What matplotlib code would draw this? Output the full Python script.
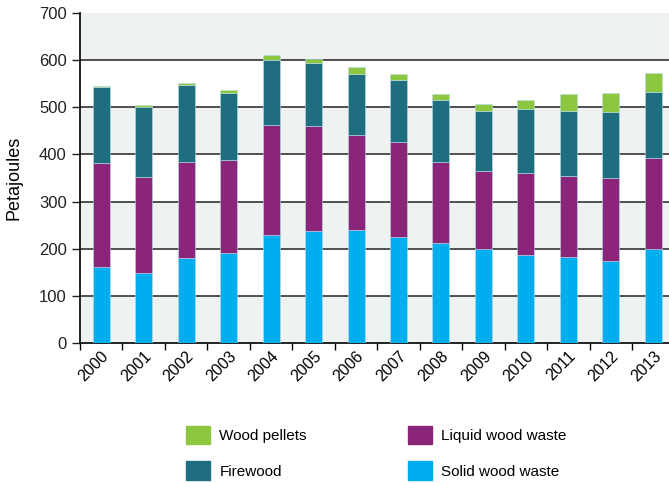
import numpy as np
import matplotlib.pyplot as plt
from matplotlib.patches import Patch

years = ['2000', '2001', '2002', '2003', '2004', '2005', '2006',
         '2007', '2008', '2009', '2010', '2011', '2012', '2013']
# stacked totals -> segment values
solid = [161, 148, 180, 191, 229, 237, 239, 225, 212, 199, 187, 183, 174, 199]
liquid = [221, 204, 205, 198, 233, 224, 203, 202, 171, 166, 173, 171, 175, 193]
firewood = [160, 149, 163, 142, 138, 132, 129, 130, 133, 128, 136, 138, 140, 140]
pellets = [4, 4, 4, 6, 10, 10, 14, 14, 12, 13, 19, 36, 41, 40]

c_solid = '#00aeef'
c_liquid = '#8a2579'
c_fire = '#1f6e80'
c_pel = '#8dc63f'

plt.rcParams['font.family'] = ['Liberation Sans Narrow', 'Liberation Sans', 'DejaVu Sans']

fig = plt.figure(figsize=(6.69, 4.83), dpi=100)
ax = fig.add_axes([80 / 669, 1 - 343 / 483, 1 - 80 / 669, 330 / 483])

# alternating background bands
for k in range(0, 7, 2):
    ax.axhspan(k * 100, k * 100 + 100, color='#eef2f1', zorder=0, lw=0)
for k in range(1, 7):
    ax.axhline(k * 100, color='#333333', lw=1.2, zorder=1)

x = np.arange(len(years))
w = 0.4
b1 = np.array(solid)
b2 = b1 + np.array(liquid)
b3 = b2 + np.array(firewood)
ec = dict(edgecolor='#b8dce8', linewidth=0.4, zorder=3)
ax.bar(x, solid, w, color=c_solid, **ec)
ax.bar(x, liquid, w, bottom=b1, color=c_liquid, **ec)
ax.bar(x, firewood, w, bottom=b2, color=c_fire, **ec)
ax.bar(x, pellets, w, bottom=b3, color=c_pel, **ec)

ax.set_ylim(0, 700)
ax.set_xlim(-0.49, 13.37)
ax.set_yticks(range(0, 701, 100))
ax.tick_params(axis='y', labelsize=12, length=6, width=1, colors='#222222')
ax.set_xticks(np.arange(-0.5, 13.5, 1))
ax.set_xticklabels([])
ax.tick_params(axis='x', which='major', length=5, width=1)
ax.set_xticks(x, minor=True)
ax.set_xticklabels(years, minor=True, rotation=45, ha='right',
                   rotation_mode='anchor', fontsize=11.5)
ax.tick_params(axis='x', which='minor', length=0, pad=4)
for s in ['top', 'right']:
    ax.spines[s].set_visible(False)
ax.spines['left'].set_linewidth(1.2)
ax.spines['bottom'].set_linewidth(1.2)
ax.set_ylabel('Petajoules', fontsize=13, labelpad=12)

handles = [Patch(color=c_pel, label='Wood pellets'),
           Patch(color=c_fire, label='Firewood'),
           Patch(color=c_liquid, label='Liquid wood waste'),
           Patch(color=c_solid, label='Solid wood waste')]
fig.legend(handles=handles, ncol=2, loc='lower left',
           bbox_to_anchor=(172 / 669, -0.022), frameon=False, fontsize=11,
           handlelength=1.6, handleheight=1.5, handletextpad=0.6,
           columnspacing=6.6, labelspacing=1.1)

fig.savefig('out.png', dpi=100)
